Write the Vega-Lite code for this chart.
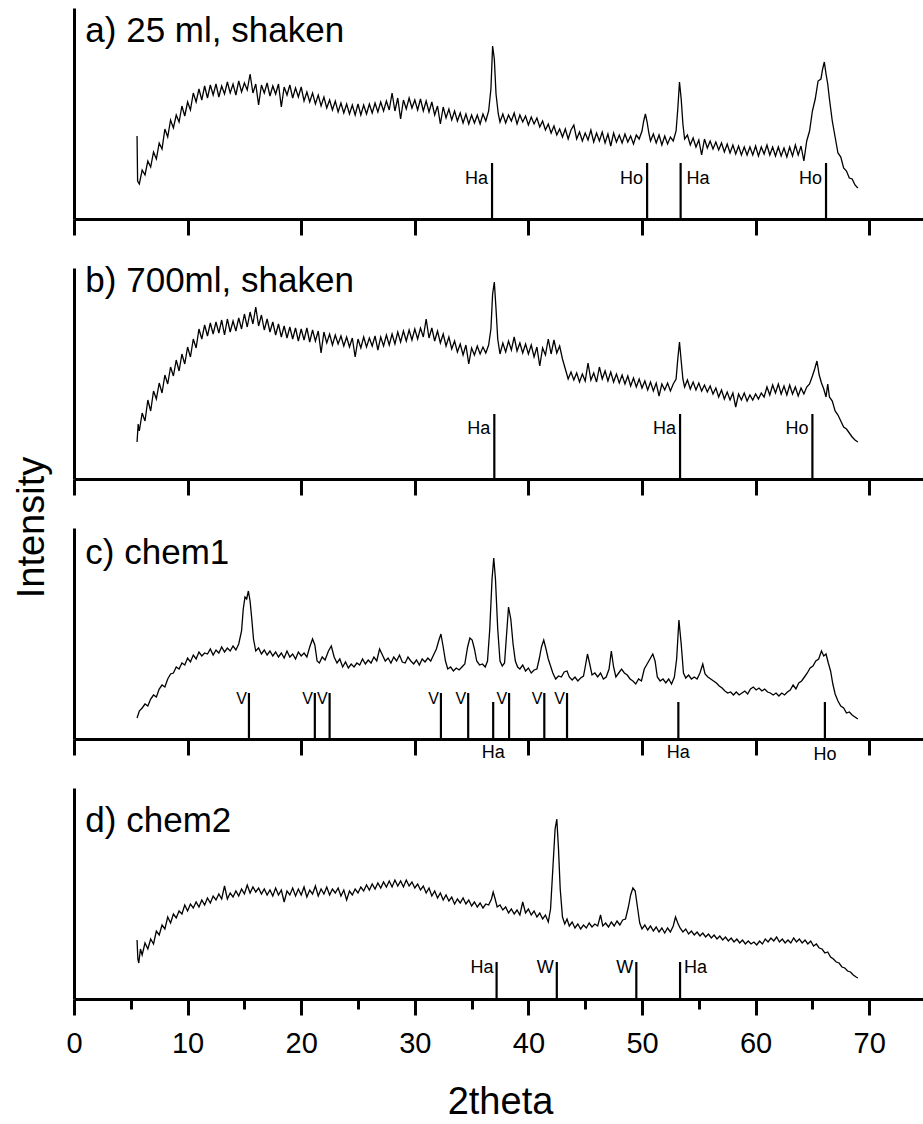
{
"$schema":"https://vega.github.io/schema/vega-lite/v6.json",
"padding":{"left":13,"top":8,"right":0,"bottom":0},
"background":"white",
"config":{"font":"Liberation Sans","view":{"stroke":null},
"axis":{"grid":false,"domainColor":"black","domainWidth":3,"tickColor":"black","tickWidth":3,"labelFont":"Liberation Sans","titleFont":"Liberation Sans","titleFontWeight":"normal","labelColor":"black","titleColor":"black"}},
"spacing":49,
"bounds":"flush",
"datasets":{
"a":[{"x":5.55,"y":83},{"x":5.6,"y":38},{"x":5.75,"y":35},{"x":6,"y":49},{"x":6.25,"y":44},{"x":6.5,"y":58},{"x":6.75,"y":52},{"x":7,"y":67},{"x":7.25,"y":60},{"x":7.5,"y":76},{"x":7.75,"y":70},{"x":8,"y":90},{"x":8.25,"y":82},{"x":8.5,"y":99},{"x":8.75,"y":91},{"x":9,"y":104},{"x":9.25,"y":97},{"x":9.5,"y":113},{"x":9.75,"y":103},{"x":10,"y":117},{"x":10.25,"y":109},{"x":10.5,"y":126},{"x":10.75,"y":117},{"x":11,"y":130},{"x":11.25,"y":119},{"x":11.5,"y":133},{"x":11.75,"y":121},{"x":12,"y":134},{"x":12.25,"y":124},{"x":12.5,"y":135},{"x":12.75,"y":122},{"x":13,"y":133},{"x":13.25,"y":125},{"x":13.5,"y":137},{"x":13.75,"y":126},{"x":14,"y":135},{"x":14.25,"y":124},{"x":14.5,"y":138},{"x":14.75,"y":127},{"x":15,"y":136},{"x":15.25,"y":129},{"x":15.5,"y":145},{"x":15.75,"y":126},{"x":16,"y":135},{"x":16.25,"y":114},{"x":16.5,"y":134},{"x":16.75,"y":126},{"x":17,"y":136},{"x":17.25,"y":123},{"x":17.5,"y":133},{"x":17.75,"y":125},{"x":18,"y":135},{"x":18.25,"y":112},{"x":18.5,"y":132},{"x":18.75,"y":124},{"x":19,"y":134},{"x":19.25,"y":121},{"x":19.5,"y":131},{"x":19.75,"y":122},{"x":20,"y":132},{"x":20.25,"y":118},{"x":20.5,"y":127},{"x":20.75,"y":117},{"x":21,"y":126},{"x":21.25,"y":115},{"x":21.5,"y":124},{"x":21.75,"y":113},{"x":22,"y":122},{"x":22.25,"y":111},{"x":22.5,"y":119},{"x":22.75,"y":109},{"x":23,"y":118},{"x":23.25,"y":107},{"x":23.5,"y":116},{"x":23.75,"y":106},{"x":24,"y":115},{"x":24.25,"y":105},{"x":24.5,"y":114},{"x":24.75,"y":104},{"x":25,"y":115},{"x":25.25,"y":104},{"x":25.5,"y":114},{"x":25.75,"y":105},{"x":26,"y":115},{"x":26.25,"y":106},{"x":26.5,"y":116},{"x":26.75,"y":107},{"x":27,"y":117},{"x":27.25,"y":108},{"x":27.5,"y":118},{"x":27.75,"y":109},{"x":28,"y":126},{"x":28.25,"y":108},{"x":28.5,"y":121},{"x":28.75,"y":100},{"x":29,"y":119},{"x":29.25,"y":110},{"x":29.5,"y":121},{"x":29.75,"y":111},{"x":30,"y":119},{"x":30.25,"y":109},{"x":30.5,"y":120},{"x":30.75,"y":108},{"x":31,"y":118},{"x":31.25,"y":107},{"x":31.5,"y":117},{"x":31.75,"y":104},{"x":32,"y":113},{"x":32.25,"y":95},{"x":32.5,"y":112},{"x":32.75,"y":101},{"x":33,"y":110},{"x":33.25,"y":99},{"x":33.5,"y":108},{"x":33.75,"y":98},{"x":34,"y":106},{"x":34.25,"y":96},{"x":34.5,"y":105},{"x":34.75,"y":95},{"x":35,"y":104},{"x":35.25,"y":96},{"x":35.5,"y":104},{"x":35.75,"y":95},{"x":36,"y":105},{"x":36.25,"y":98},{"x":36.5,"y":108},{"x":36.7,"y":130},{"x":36.85,"y":173},{"x":37,"y":160},{"x":37.15,"y":125},{"x":37.35,"y":105},{"x":37.5,"y":97},{"x":37.75,"y":105},{"x":38,"y":96},{"x":38.25,"y":104},{"x":38.5,"y":98},{"x":38.75,"y":106},{"x":39,"y":95},{"x":39.25,"y":104},{"x":39.5,"y":97},{"x":39.75,"y":103},{"x":40,"y":94},{"x":40.25,"y":102},{"x":40.5,"y":95},{"x":40.75,"y":101},{"x":41,"y":92},{"x":41.25,"y":98},{"x":41.5,"y":89},{"x":41.75,"y":95},{"x":42,"y":86},{"x":42.25,"y":93},{"x":42.5,"y":84},{"x":42.75,"y":90},{"x":43,"y":82},{"x":43.25,"y":90},{"x":43.5,"y":80},{"x":43.75,"y":89},{"x":44,"y":94},{"x":44.25,"y":80},{"x":44.5,"y":87},{"x":44.75,"y":78},{"x":45,"y":86},{"x":45.25,"y":79},{"x":45.5,"y":89},{"x":45.75,"y":77},{"x":46,"y":86},{"x":46.25,"y":78},{"x":46.5,"y":87},{"x":46.75,"y":76},{"x":47,"y":85},{"x":47.25,"y":73},{"x":47.5,"y":86},{"x":47.75,"y":77},{"x":48,"y":84},{"x":48.25,"y":76},{"x":48.5,"y":85},{"x":48.75,"y":77},{"x":49,"y":83},{"x":49.25,"y":75},{"x":49.5,"y":84},{"x":49.75,"y":80},{"x":50,"y":88},{"x":50.15,"y":98},{"x":50.3,"y":105},{"x":50.45,"y":97},{"x":50.6,"y":86},{"x":50.75,"y":78},{"x":51,"y":85},{"x":51.25,"y":76},{"x":51.5,"y":84},{"x":51.75,"y":74},{"x":52,"y":83},{"x":52.25,"y":75},{"x":52.5,"y":82},{"x":52.75,"y":78},{"x":53,"y":88},{"x":53.15,"y":110},{"x":53.3,"y":137},{"x":53.45,"y":120},{"x":53.6,"y":95},{"x":53.75,"y":80},{"x":54,"y":84},{"x":54.25,"y":74},{"x":54.5,"y":81},{"x":54.75,"y":72},{"x":55,"y":79},{"x":55.25,"y":64},{"x":55.5,"y":80},{"x":55.75,"y":71},{"x":56,"y":78},{"x":56.25,"y":70},{"x":56.5,"y":77},{"x":56.75,"y":69},{"x":57,"y":76},{"x":57.25,"y":67},{"x":57.5,"y":75},{"x":57.75,"y":66},{"x":58,"y":74},{"x":58.25,"y":65},{"x":58.5,"y":73},{"x":58.75,"y":64},{"x":59,"y":72},{"x":59.25,"y":64},{"x":59.5,"y":72},{"x":59.75,"y":64},{"x":60,"y":73},{"x":60.25,"y":63},{"x":60.5,"y":72},{"x":60.75,"y":65},{"x":61,"y":74},{"x":61.25,"y":64},{"x":61.5,"y":72},{"x":61.75,"y":63},{"x":62,"y":72},{"x":62.25,"y":63},{"x":62.5,"y":71},{"x":62.75,"y":62},{"x":63,"y":72},{"x":63.25,"y":63},{"x":63.5,"y":74},{"x":63.75,"y":64},{"x":64,"y":73},{"x":64.25,"y":58},{"x":64.5,"y":78},{"x":64.75,"y":88},{"x":65,"y":108},{"x":65.25,"y":120},{"x":65.5,"y":138},{"x":65.75,"y":140},{"x":65.9,"y":150},{"x":66.05,"y":157},{"x":66.2,"y":145},{"x":66.35,"y":135},{"x":66.5,"y":120},{"x":66.75,"y":98},{"x":67,"y":82},{"x":67.25,"y":66},{"x":67.5,"y":62},{"x":67.75,"y":51},{"x":68,"y":48},{"x":68.25,"y":41},{"x":68.5,"y":40},{"x":68.75,"y":34},{"x":69,"y":31}],
"b":[{"x":5.55,"y":37},{"x":5.65,"y":55},{"x":5.75,"y":48},{"x":6,"y":66},{"x":6.25,"y":58},{"x":6.5,"y":79},{"x":6.75,"y":68},{"x":7,"y":88},{"x":7.25,"y":80},{"x":7.5,"y":96},{"x":7.75,"y":86},{"x":8,"y":104},{"x":8.25,"y":95},{"x":8.5,"y":112},{"x":8.75,"y":103},{"x":9,"y":119},{"x":9.25,"y":108},{"x":9.5,"y":125},{"x":9.75,"y":115},{"x":10,"y":132},{"x":10.25,"y":122},{"x":10.5,"y":140},{"x":10.75,"y":131},{"x":11,"y":150},{"x":11.25,"y":140},{"x":11.5,"y":154},{"x":11.75,"y":143},{"x":12,"y":156},{"x":12.25,"y":145},{"x":12.5,"y":157},{"x":12.75,"y":146},{"x":13,"y":159},{"x":13.25,"y":144},{"x":13.5,"y":160},{"x":13.75,"y":147},{"x":14,"y":158},{"x":14.25,"y":148},{"x":14.5,"y":161},{"x":14.75,"y":150},{"x":15,"y":165},{"x":15.25,"y":152},{"x":15.5,"y":167},{"x":15.75,"y":155},{"x":16,"y":172},{"x":16.25,"y":153},{"x":16.5,"y":164},{"x":16.75,"y":149},{"x":17,"y":160},{"x":17.25,"y":147},{"x":17.5,"y":157},{"x":17.75,"y":144},{"x":18,"y":155},{"x":18.25,"y":142},{"x":18.5,"y":153},{"x":18.75,"y":141},{"x":19,"y":152},{"x":19.25,"y":140},{"x":19.5,"y":151},{"x":19.75,"y":138},{"x":20,"y":150},{"x":20.25,"y":139},{"x":20.5,"y":151},{"x":20.75,"y":137},{"x":21,"y":149},{"x":21.25,"y":138},{"x":21.5,"y":148},{"x":21.75,"y":126},{"x":22,"y":147},{"x":22.25,"y":136},{"x":22.5,"y":145},{"x":22.75,"y":134},{"x":23,"y":144},{"x":23.25,"y":135},{"x":23.5,"y":143},{"x":23.75,"y":133},{"x":24,"y":142},{"x":24.25,"y":132},{"x":24.5,"y":141},{"x":24.75,"y":122},{"x":25,"y":140},{"x":25.25,"y":131},{"x":25.5,"y":142},{"x":25.75,"y":132},{"x":26,"y":141},{"x":26.25,"y":133},{"x":26.5,"y":143},{"x":26.75,"y":129},{"x":27,"y":142},{"x":27.25,"y":133},{"x":27.5,"y":144},{"x":27.75,"y":134},{"x":28,"y":145},{"x":28.25,"y":135},{"x":28.5,"y":147},{"x":28.75,"y":137},{"x":29,"y":148},{"x":29.25,"y":138},{"x":29.5,"y":149},{"x":29.75,"y":139},{"x":30,"y":150},{"x":30.25,"y":140},{"x":30.5,"y":151},{"x":30.75,"y":142},{"x":31,"y":160},{"x":31.25,"y":141},{"x":31.5,"y":151},{"x":31.75,"y":138},{"x":32,"y":148},{"x":32.25,"y":136},{"x":32.5,"y":145},{"x":32.75,"y":133},{"x":33,"y":142},{"x":33.25,"y":130},{"x":33.5,"y":138},{"x":33.75,"y":127},{"x":34,"y":135},{"x":34.25,"y":124},{"x":34.5,"y":134},{"x":34.75,"y":115},{"x":35,"y":131},{"x":35.25,"y":124},{"x":35.5,"y":133},{"x":35.75,"y":125},{"x":36,"y":132},{"x":36.25,"y":126},{"x":36.5,"y":134},{"x":36.7,"y":150},{"x":36.85,"y":185},{"x":37,"y":197},{"x":37.15,"y":170},{"x":37.3,"y":140},{"x":37.5,"y":125},{"x":37.75,"y":136},{"x":38,"y":127},{"x":38.25,"y":138},{"x":38.5,"y":129},{"x":38.75,"y":142},{"x":39,"y":128},{"x":39.25,"y":136},{"x":39.5,"y":126},{"x":39.75,"y":135},{"x":40,"y":125},{"x":40.25,"y":134},{"x":40.5,"y":122},{"x":40.75,"y":132},{"x":41,"y":113},{"x":41.25,"y":131},{"x":41.5,"y":124},{"x":41.75,"y":140},{"x":42,"y":125},{"x":42.25,"y":139},{"x":42.5,"y":126},{"x":42.75,"y":133},{"x":43,"y":120},{"x":43.25,"y":110},{"x":43.5,"y":100},{"x":43.75,"y":107},{"x":44,"y":99},{"x":44.25,"y":106},{"x":44.5,"y":97},{"x":44.75,"y":105},{"x":45,"y":98},{"x":45.25,"y":116},{"x":45.5,"y":99},{"x":45.75,"y":106},{"x":46,"y":97},{"x":46.25,"y":112},{"x":46.5,"y":100},{"x":46.75,"y":108},{"x":47,"y":98},{"x":47.25,"y":107},{"x":47.5,"y":97},{"x":47.75,"y":105},{"x":48,"y":96},{"x":48.25,"y":104},{"x":48.5,"y":95},{"x":48.75,"y":103},{"x":49,"y":93},{"x":49.25,"y":101},{"x":49.5,"y":92},{"x":49.75,"y":100},{"x":50,"y":91},{"x":50.25,"y":98},{"x":50.5,"y":89},{"x":50.75,"y":97},{"x":51,"y":88},{"x":51.25,"y":96},{"x":51.5,"y":83},{"x":51.75,"y":95},{"x":52,"y":89},{"x":52.25,"y":96},{"x":52.5,"y":88},{"x":52.75,"y":95},{"x":53,"y":100},{"x":53.15,"y":120},{"x":53.3,"y":137},{"x":53.45,"y":118},{"x":53.6,"y":100},{"x":53.75,"y":92},{"x":54,"y":99},{"x":54.25,"y":90},{"x":54.5,"y":97},{"x":54.75,"y":89},{"x":55,"y":96},{"x":55.25,"y":88},{"x":55.5,"y":94},{"x":55.75,"y":87},{"x":56,"y":93},{"x":56.25,"y":85},{"x":56.5,"y":91},{"x":56.75,"y":82},{"x":57,"y":89},{"x":57.25,"y":80},{"x":57.5,"y":87},{"x":57.75,"y":79},{"x":58,"y":86},{"x":58.25,"y":72},{"x":58.5,"y":85},{"x":58.75,"y":79},{"x":59,"y":86},{"x":59.25,"y":78},{"x":59.5,"y":84},{"x":59.75,"y":79},{"x":60,"y":85},{"x":60.25,"y":80},{"x":60.5,"y":86},{"x":60.75,"y":82},{"x":61,"y":92},{"x":61.25,"y":84},{"x":61.5,"y":94},{"x":61.75,"y":86},{"x":62,"y":95},{"x":62.25,"y":85},{"x":62.5,"y":93},{"x":62.75,"y":84},{"x":63,"y":94},{"x":63.25,"y":85},{"x":63.5,"y":92},{"x":63.75,"y":83},{"x":64,"y":91},{"x":64.25,"y":85},{"x":64.5,"y":92},{"x":64.75,"y":95},{"x":65,"y":103},{"x":65.2,"y":110},{"x":65.4,"y":118},{"x":65.6,"y":104},{"x":65.8,"y":96},{"x":66,"y":90},{"x":66.2,"y":82},{"x":66.35,"y":95},{"x":66.5,"y":82},{"x":66.75,"y":78},{"x":67,"y":68},{"x":67.25,"y":64},{"x":67.5,"y":58},{"x":67.75,"y":52},{"x":68,"y":50},{"x":68.25,"y":46},{"x":68.5,"y":42},{"x":68.75,"y":39},{"x":69,"y":37}],
"c":[{"x":5.55,"y":21},{"x":5.75,"y":28},{"x":6,"y":31},{"x":6.25,"y":35},{"x":6.5,"y":33},{"x":6.75,"y":40},{"x":7,"y":44},{"x":7.25,"y":42},{"x":7.5,"y":50},{"x":7.75,"y":54},{"x":8,"y":52},{"x":8.25,"y":60},{"x":8.5,"y":65},{"x":8.75,"y":66},{"x":9,"y":72},{"x":9.25,"y":70},{"x":9.5,"y":76},{"x":9.75,"y":74},{"x":10,"y":81},{"x":10.25,"y":77},{"x":10.5,"y":84},{"x":10.75,"y":80},{"x":11,"y":87},{"x":11.25,"y":83},{"x":11.5,"y":86},{"x":11.75,"y":85},{"x":12,"y":90},{"x":12.25,"y":84},{"x":12.5,"y":89},{"x":12.75,"y":86},{"x":13,"y":92},{"x":13.25,"y":87},{"x":13.5,"y":91},{"x":13.75,"y":88},{"x":14,"y":93},{"x":14.25,"y":89},{"x":14.5,"y":95},{"x":14.75,"y":108},{"x":14.9,"y":130},{"x":15.05,"y":142},{"x":15.2,"y":140},{"x":15.35,"y":148},{"x":15.5,"y":138},{"x":15.65,"y":120},{"x":15.8,"y":100},{"x":16,"y":88},{"x":16.25,"y":91},{"x":16.5,"y":85},{"x":16.75,"y":89},{"x":17,"y":84},{"x":17.25,"y":88},{"x":17.5,"y":83},{"x":17.75,"y":87},{"x":18,"y":82},{"x":18.25,"y":86},{"x":18.5,"y":81},{"x":18.75,"y":88},{"x":19,"y":82},{"x":19.25,"y":85},{"x":19.5,"y":80},{"x":19.75,"y":87},{"x":20,"y":83},{"x":20.25,"y":86},{"x":20.5,"y":82},{"x":20.75,"y":92},{"x":21,"y":100},{"x":21.2,"y":94},{"x":21.4,"y":78},{"x":21.6,"y":76},{"x":21.85,"y":82},{"x":22.1,"y":79},{"x":22.4,"y":88},{"x":22.65,"y":93},{"x":22.9,"y":82},{"x":23.15,"y":76},{"x":23.4,"y":80},{"x":23.65,"y":72},{"x":23.9,"y":77},{"x":24.15,"y":71},{"x":24.4,"y":75},{"x":24.65,"y":72},{"x":24.9,"y":76},{"x":25.15,"y":74},{"x":25.4,"y":80},{"x":25.65,"y":75},{"x":25.9,"y":79},{"x":26.15,"y":76},{"x":26.4,"y":82},{"x":26.65,"y":78},{"x":26.9,"y":90},{"x":27.15,"y":84},{"x":27.4,"y":78},{"x":27.65,"y":81},{"x":27.9,"y":76},{"x":28.15,"y":82},{"x":28.4,"y":78},{"x":28.65,"y":84},{"x":28.9,"y":77},{"x":29.15,"y":76},{"x":29.4,"y":82},{"x":29.65,"y":78},{"x":29.9,"y":75},{"x":30.15,"y":79},{"x":30.4,"y":74},{"x":30.65,"y":80},{"x":30.9,"y":77},{"x":31.15,"y":81},{"x":31.4,"y":78},{"x":31.65,"y":84},{"x":31.9,"y":90},{"x":32.1,"y":98},{"x":32.3,"y":105},{"x":32.5,"y":92},{"x":32.7,"y":78},{"x":32.9,"y":70},{"x":33.15,"y":72},{"x":33.4,"y":68},{"x":33.65,"y":71},{"x":33.9,"y":69},{"x":34.15,"y":72},{"x":34.4,"y":75},{"x":34.65,"y":92},{"x":34.85,"y":101},{"x":35.05,"y":99},{"x":35.25,"y":90},{"x":35.45,"y":78},{"x":35.7,"y":74},{"x":35.95,"y":75},{"x":36.2,"y":72},{"x":36.4,"y":78},{"x":36.6,"y":110},{"x":36.8,"y":160},{"x":36.95,"y":181},{"x":37.1,"y":160},{"x":37.3,"y":110},{"x":37.5,"y":78},{"x":37.7,"y":73},{"x":37.9,"y":76},{"x":38.05,"y":100},{"x":38.25,"y":132},{"x":38.45,"y":120},{"x":38.65,"y":95},{"x":38.85,"y":78},{"x":39.05,"y":72},{"x":39.25,"y":70},{"x":39.5,"y":74},{"x":39.75,"y":68},{"x":40,"y":71},{"x":40.25,"y":66},{"x":40.5,"y":69},{"x":40.75,"y":70},{"x":40.95,"y":80},{"x":41.15,"y":92},{"x":41.35,"y":99},{"x":41.55,"y":90},{"x":41.75,"y":80},{"x":41.95,"y":73},{"x":42.15,"y":66},{"x":42.4,"y":60},{"x":42.65,"y":63},{"x":42.9,"y":62},{"x":43.15,"y":67},{"x":43.4,"y":68},{"x":43.6,"y":62},{"x":43.85,"y":59},{"x":44.1,"y":62},{"x":44.35,"y":58},{"x":44.6,"y":61},{"x":44.85,"y":63},{"x":45,"y":72},{"x":45.2,"y":85},{"x":45.4,"y":75},{"x":45.6,"y":64},{"x":45.85,"y":66},{"x":46.1,"y":62},{"x":46.35,"y":66},{"x":46.6,"y":60},{"x":46.85,"y":62},{"x":47.1,"y":70},{"x":47.3,"y":88},{"x":47.5,"y":72},{"x":47.7,"y":62},{"x":47.95,"y":66},{"x":48.2,"y":70},{"x":48.45,"y":66},{"x":48.7,"y":64},{"x":48.95,"y":60},{"x":49.2,"y":58},{"x":49.45,"y":55},{"x":49.7,"y":60},{"x":49.95,"y":58},{"x":50.2,"y":70},{"x":50.45,"y":75},{"x":50.7,"y":80},{"x":50.95,"y":85},{"x":51.15,"y":78},{"x":51.35,"y":62},{"x":51.6,"y":58},{"x":51.85,"y":60},{"x":52.1,"y":56},{"x":52.35,"y":60},{"x":52.6,"y":55},{"x":52.85,"y":62},{"x":53.05,"y":80},{"x":53.25,"y":119},{"x":53.45,"y":95},{"x":53.65,"y":66},{"x":53.85,"y":61},{"x":54.1,"y":64},{"x":54.35,"y":60},{"x":54.6,"y":62},{"x":54.85,"y":60},{"x":55.1,"y":66},{"x":55.35,"y":75},{"x":55.55,"y":65},{"x":55.8,"y":62},{"x":56.05,"y":60},{"x":56.3,"y":58},{"x":56.55,"y":56},{"x":56.8,"y":53},{"x":57.05,"y":51},{"x":57.3,"y":48},{"x":57.55,"y":46},{"x":57.8,"y":47},{"x":58.05,"y":44},{"x":58.3,"y":47},{"x":58.55,"y":44},{"x":58.8,"y":46},{"x":59.05,"y":48},{"x":59.3,"y":45},{"x":59.55,"y":50},{"x":59.8,"y":52},{"x":60.05,"y":49},{"x":60.3,"y":51},{"x":60.55,"y":48},{"x":60.8,"y":50},{"x":61.05,"y":47},{"x":61.3,"y":46},{"x":61.55,"y":44},{"x":61.8,"y":46},{"x":62.05,"y":43},{"x":62.3,"y":46},{"x":62.55,"y":44},{"x":62.8,"y":47},{"x":63.05,"y":49},{"x":63.3,"y":54},{"x":63.55,"y":50},{"x":63.8,"y":56},{"x":64.05,"y":58},{"x":64.3,"y":62},{"x":64.55,"y":66},{"x":64.8,"y":71},{"x":65.05,"y":73},{"x":65.3,"y":78},{"x":65.55,"y":80},{"x":65.8,"y":88},{"x":66,"y":83},{"x":66.2,"y":85},{"x":66.4,"y":76},{"x":66.6,"y":68},{"x":66.8,"y":55},{"x":67,"y":45},{"x":67.25,"y":38},{"x":67.5,"y":33},{"x":67.75,"y":31},{"x":68,"y":26},{"x":68.25,"y":27},{"x":68.5,"y":24},{"x":68.75,"y":22},{"x":69,"y":20}],
"d":[{"x":5.55,"y":59},{"x":5.62,"y":40},{"x":5.7,"y":36},{"x":5.85,"y":50},{"x":6,"y":44},{"x":6.25,"y":56},{"x":6.5,"y":50},{"x":6.75,"y":60},{"x":7,"y":55},{"x":7.25,"y":68},{"x":7.5,"y":64},{"x":7.75,"y":74},{"x":8,"y":70},{"x":8.25,"y":82},{"x":8.5,"y":76},{"x":8.75,"y":85},{"x":9,"y":81},{"x":9.25,"y":88},{"x":9.5,"y":85},{"x":9.75,"y":94},{"x":10,"y":88},{"x":10.25,"y":95},{"x":10.5,"y":91},{"x":10.75,"y":97},{"x":11,"y":92},{"x":11.25,"y":99},{"x":11.5,"y":94},{"x":11.75,"y":101},{"x":12,"y":96},{"x":12.25,"y":103},{"x":12.5,"y":99},{"x":12.75,"y":105},{"x":13,"y":100},{"x":13.25,"y":113},{"x":13.5,"y":100},{"x":13.75,"y":106},{"x":14,"y":102},{"x":14.25,"y":108},{"x":14.5,"y":103},{"x":14.75,"y":110},{"x":15,"y":105},{"x":15.25,"y":114},{"x":15.5,"y":106},{"x":15.75,"y":112},{"x":16,"y":107},{"x":16.25,"y":111},{"x":16.5,"y":105},{"x":16.75,"y":110},{"x":17,"y":104},{"x":17.25,"y":109},{"x":17.5,"y":103},{"x":17.75,"y":111},{"x":18,"y":104},{"x":18.25,"y":109},{"x":18.5,"y":97},{"x":18.75,"y":108},{"x":19,"y":104},{"x":19.25,"y":111},{"x":19.5,"y":103},{"x":19.75,"y":110},{"x":20,"y":104},{"x":20.25,"y":112},{"x":20.5,"y":102},{"x":20.75,"y":109},{"x":21,"y":105},{"x":21.25,"y":113},{"x":21.5,"y":103},{"x":21.75,"y":110},{"x":22,"y":105},{"x":22.25,"y":112},{"x":22.5,"y":104},{"x":22.75,"y":110},{"x":23,"y":106},{"x":23.25,"y":111},{"x":23.5,"y":103},{"x":23.75,"y":109},{"x":24,"y":99},{"x":24.25,"y":108},{"x":24.5,"y":104},{"x":24.75,"y":110},{"x":25,"y":106},{"x":25.25,"y":112},{"x":25.5,"y":108},{"x":25.75,"y":114},{"x":26,"y":109},{"x":26.25,"y":115},{"x":26.5,"y":110},{"x":26.75,"y":116},{"x":27,"y":111},{"x":27.25,"y":117},{"x":27.5,"y":112},{"x":27.75,"y":118},{"x":28,"y":112},{"x":28.25,"y":119},{"x":28.5,"y":113},{"x":28.75,"y":118},{"x":29,"y":112},{"x":29.25,"y":119},{"x":29.5,"y":113},{"x":29.75,"y":117},{"x":30,"y":111},{"x":30.25,"y":115},{"x":30.5,"y":109},{"x":30.75,"y":113},{"x":31,"y":106},{"x":31.25,"y":111},{"x":31.5,"y":103},{"x":31.75,"y":108},{"x":32,"y":101},{"x":32.25,"y":106},{"x":32.5,"y":99},{"x":32.75,"y":104},{"x":33,"y":98},{"x":33.25,"y":102},{"x":33.5,"y":95},{"x":33.75,"y":100},{"x":34,"y":96},{"x":34.25,"y":101},{"x":34.5,"y":95},{"x":34.75,"y":99},{"x":35,"y":93},{"x":35.25,"y":97},{"x":35.5,"y":92},{"x":35.75,"y":96},{"x":36,"y":91},{"x":36.25,"y":95},{"x":36.5,"y":94},{"x":36.75,"y":100},{"x":36.9,"y":107},{"x":37.05,"y":101},{"x":37.25,"y":92},{"x":37.5,"y":94},{"x":37.75,"y":89},{"x":38,"y":92},{"x":38.25,"y":86},{"x":38.5,"y":90},{"x":38.75,"y":85},{"x":39,"y":89},{"x":39.25,"y":84},{"x":39.5,"y":97},{"x":39.75,"y":86},{"x":40,"y":90},{"x":40.25,"y":84},{"x":40.5,"y":88},{"x":40.75,"y":82},{"x":41,"y":86},{"x":41.25,"y":80},{"x":41.5,"y":84},{"x":41.75,"y":77},{"x":41.95,"y":90},{"x":42.15,"y":130},{"x":42.35,"y":170},{"x":42.5,"y":180},{"x":42.65,"y":150},{"x":42.8,"y":110},{"x":43,"y":82},{"x":43.2,"y":75},{"x":43.4,"y":80},{"x":43.6,"y":73},{"x":43.85,"y":77},{"x":44.1,"y":71},{"x":44.35,"y":75},{"x":44.6,"y":70},{"x":44.85,"y":74},{"x":45.1,"y":71},{"x":45.35,"y":76},{"x":45.6,"y":72},{"x":45.85,"y":75},{"x":46.1,"y":73},{"x":46.35,"y":84},{"x":46.55,"y":73},{"x":46.8,"y":76},{"x":47.05,"y":72},{"x":47.3,"y":77},{"x":47.55,"y":73},{"x":47.8,"y":78},{"x":48.05,"y":74},{"x":48.3,"y":79},{"x":48.55,"y":80},{"x":48.8,"y":92},{"x":49,"y":104},{"x":49.2,"y":111},{"x":49.4,"y":108},{"x":49.6,"y":92},{"x":49.8,"y":76},{"x":50,"y":70},{"x":50.25,"y":74},{"x":50.5,"y":69},{"x":50.75,"y":73},{"x":51,"y":68},{"x":51.25,"y":72},{"x":51.5,"y":67},{"x":51.75,"y":71},{"x":52,"y":66},{"x":52.25,"y":71},{"x":52.5,"y":67},{"x":52.75,"y":73},{"x":52.95,"y":82},{"x":53.15,"y":76},{"x":53.35,"y":71},{"x":53.6,"y":67},{"x":53.85,"y":70},{"x":54.1,"y":65},{"x":54.35,"y":68},{"x":54.6,"y":64},{"x":54.85,"y":67},{"x":55.1,"y":63},{"x":55.35,"y":66},{"x":55.6,"y":62},{"x":55.85,"y":65},{"x":56.1,"y":61},{"x":56.35,"y":64},{"x":56.6,"y":60},{"x":56.85,"y":63},{"x":57.1,"y":59},{"x":57.35,"y":62},{"x":57.6,"y":58},{"x":57.85,"y":61},{"x":58.1,"y":57},{"x":58.35,"y":60},{"x":58.6,"y":56},{"x":58.85,"y":59},{"x":59.1,"y":55},{"x":59.35,"y":58},{"x":59.6,"y":55},{"x":59.85,"y":57},{"x":60.1,"y":54},{"x":60.35,"y":58},{"x":60.6,"y":55},{"x":60.85,"y":60},{"x":61.1,"y":57},{"x":61.35,"y":61},{"x":61.6,"y":58},{"x":61.85,"y":62},{"x":62.1,"y":57},{"x":62.35,"y":60},{"x":62.6,"y":56},{"x":62.85,"y":59},{"x":63.1,"y":56},{"x":63.35,"y":61},{"x":63.6,"y":57},{"x":63.85,"y":60},{"x":64.1,"y":56},{"x":64.35,"y":59},{"x":64.6,"y":55},{"x":64.85,"y":58},{"x":65.1,"y":53},{"x":65.35,"y":55},{"x":65.6,"y":51},{"x":65.85,"y":50},{"x":66.1,"y":46},{"x":66.35,"y":47},{"x":66.6,"y":42},{"x":66.85,"y":40},{"x":67.1,"y":37},{"x":67.35,"y":36},{"x":67.6,"y":32},{"x":67.85,"y":31},{"x":68.1,"y":28},{"x":68.35,"y":27},{"x":68.6,"y":24},{"x":68.85,"y":22},{"x":69,"y":21}]
},
"vconcat":[
{"width":852,"height":211,
"encoding":{"x":{"field":"x","type":"quantitative","scale":{"domain":[0,75],"nice":false,"zero":false},"axis":{"values":[0,10,20,30,40,50,60,70],"labels":false,"title":null,"tickSize":16,"domainWidth":3,"tickWidth":3}},
"y":{"field":"y","type":"quantitative","scale":{"domain":[0,211],"nice":false},"axis":{"ticks":false,"labels":false,"title":null,"domainWidth":3}}},
"layer":[
{"data":{"name":"a"},"mark":{"type":"line","color":"black","strokeWidth":1.3}},
{"data":{"values":[{"x":36.8,"y":56},{"x":50.45,"y":56},{"x":53.4,"y":56},{"x":66.2,"y":56}]},"mark":{"type":"rule","color":"black","strokeWidth":2.2},"encoding":{"y2":{"datum":0}}},
{"data":{"values":[{"x":36.8,"y":35,"t":"Ha"},{"x":50.45,"y":35,"t":"Ho"},{"x":66.2,"y":35,"t":"Ho"}]},"mark":{"type":"text","align":"right","baseline":"alphabetic","dx":-4,"fontSize":18,"color":"black"},"encoding":{"text":{"field":"t"}}},
{"data":{"values":[{"x":53.4,"y":35,"t":"Ha"}]},"mark":{"type":"text","align":"left","baseline":"alphabetic","dx":6,"fontSize":18,"color":"black"},"encoding":{"text":{"field":"t"}}},
{"data":{"values":[{"x":1,"y":177,"t":"a) 25 ml, shaken"}]},"mark":{"type":"text","align":"left","baseline":"alphabetic","fontSize":35,"color":"black"},"encoding":{"text":{"field":"t"}}}
]},
{"width":852,"height":211,
"encoding":{"x":{"field":"x","type":"quantitative","scale":{"domain":[0,75],"nice":false,"zero":false},"axis":{"values":[0,10,20,30,40,50,60,70],"labels":false,"title":null,"tickSize":16,"domainWidth":3,"tickWidth":3}},
"y":{"field":"y","type":"quantitative","scale":{"domain":[0,211],"nice":false},"axis":{"ticks":false,"labels":false,"title":null,"domainWidth":3}}},
"layer":[
{"data":{"name":"b"},"mark":{"type":"line","color":"black","strokeWidth":1.3}},
{"data":{"values":[{"x":37.0,"y":65},{"x":53.35,"y":65},{"x":65.0,"y":65}]},"mark":{"type":"rule","color":"black","strokeWidth":2.2},"encoding":{"y2":{"datum":0}}},
{"data":{"values":[{"x":37.0,"y":45,"t":"Ha"},{"x":53.35,"y":45,"t":"Ha"},{"x":65.0,"y":45,"t":"Ho"}]},"mark":{"type":"text","align":"right","baseline":"alphabetic","dx":-4,"fontSize":18,"color":"black"},"encoding":{"text":{"field":"t"}}},
{"data":{"values":[{"x":1,"y":187,"t":"b) 700ml, shaken"}]},"mark":{"type":"text","align":"left","baseline":"alphabetic","fontSize":35,"color":"black"},"encoding":{"text":{"field":"t"}}}
]},
{"width":852,"height":211,
"encoding":{"x":{"field":"x","type":"quantitative","scale":{"domain":[0,75],"nice":false,"zero":false},"axis":{"values":[0,10,20,30,40,50,60,70],"labels":false,"title":null,"tickSize":16,"domainWidth":3,"tickWidth":3}},
"y":{"field":"y","type":"quantitative","scale":{"domain":[0,211],"nice":false},"axis":{"ticks":false,"labels":false,"domainWidth":3,"title":"Intensity","titleFontSize":38,"titleX":-31,"titleY":-1,"titleAngle":-90,"titleBaseline":"alphabetic","titleAlign":"center"}}},
"layer":[
{"data":{"name":"c"},"mark":{"type":"line","color":"black","strokeWidth":1.3}},
{"data":{"values":[{"x":15.4,"y":46},{"x":21.2,"y":46},{"x":22.5,"y":46},{"x":32.3,"y":46},{"x":34.7,"y":46},{"x":38.3,"y":46},{"x":41.4,"y":46},{"x":43.4,"y":46},{"x":36.9,"y":37},{"x":53.2,"y":37},{"x":66.1,"y":37}]},"mark":{"type":"rule","color":"black","strokeWidth":2.2},"encoding":{"y2":{"datum":0}}},
{"data":{"values":[{"x":15.4,"y":35,"t":"V"},{"x":21.2,"y":35,"t":"V"},{"x":22.5,"y":35,"t":"V"},{"x":32.3,"y":35,"t":"V"},{"x":34.7,"y":35,"t":"V"},{"x":38.3,"y":35,"t":"V"},{"x":41.4,"y":35,"t":"V"},{"x":43.4,"y":35,"t":"V"}]},"mark":{"type":"text","align":"right","baseline":"alphabetic","dx":-2,"fontSize":16,"color":"black"},"encoding":{"text":{"field":"t"}}},
{"data":{"values":[{"x":36.9,"y":-19,"t":"Ha"},{"x":53.2,"y":-19,"t":"Ha"},{"x":66.1,"y":-21,"t":"Ho"}]},"mark":{"type":"text","align":"center","baseline":"alphabetic","fontSize":18,"color":"black"},"encoding":{"text":{"field":"t"}}},
{"data":{"values":[{"x":1,"y":175,"t":"c) chem1"}]},"mark":{"type":"text","align":"left","baseline":"alphabetic","fontSize":35,"color":"black"},"encoding":{"text":{"field":"t"}}}
]},
{"width":852,"height":211,
"encoding":{"x":{"field":"x","type":"quantitative","scale":{"domain":[0,75],"nice":false,"zero":false},"axis":{"values":[0,5,10,15,20,25,30,35,40,45,50,55,60,65,70],"labelExpr":"datum.value % 10 === 0 ? datum.label : ''","labelFontSize":29,"labelPadding":14,"labelFlush":false,"domainWidth":3,"tickWidth":3,"tickSize":{"condition":{"test":"datum.value % 10 !== 0","value":10},"value":16},"title":"2theta","titleFontSize":38,"titlePadding":25}},
"y":{"field":"y","type":"quantitative","scale":{"domain":[0,211],"nice":false},"axis":{"ticks":false,"labels":false,"title":null,"domainWidth":3}}},
"layer":[
{"data":{"name":"d"},"mark":{"type":"line","color":"black","strokeWidth":1.3}},
{"data":{"values":[{"x":37.2,"y":37},{"x":42.5,"y":37},{"x":49.5,"y":37},{"x":53.35,"y":37}]},"mark":{"type":"rule","color":"black","strokeWidth":2.2},"encoding":{"y2":{"datum":0}}},
{"data":{"values":[{"x":37.2,"y":26,"t":"Ha"},{"x":42.5,"y":26,"t":"W"},{"x":49.5,"y":26,"t":"W"}]},"mark":{"type":"text","align":"right","baseline":"alphabetic","dx":-3,"fontSize":18,"color":"black"},"encoding":{"text":{"field":"t"}}},
{"data":{"values":[{"x":53.35,"y":26,"t":"Ha"}]},"mark":{"type":"text","align":"left","baseline":"alphabetic","dx":4,"fontSize":18,"color":"black"},"encoding":{"text":{"field":"t"}}},
{"data":{"values":[{"x":1,"y":167,"t":"d) chem2"}]},"mark":{"type":"text","align":"left","baseline":"alphabetic","fontSize":35,"color":"black"},"encoding":{"text":{"field":"t"}}}
]}
]
}
